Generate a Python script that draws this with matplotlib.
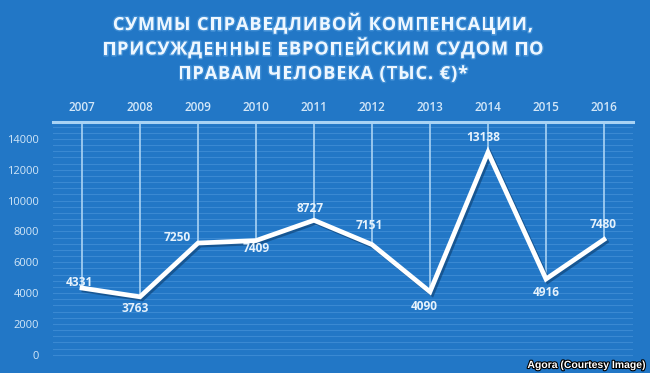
import matplotlib.pyplot as plt
import matplotlib.patheffects as pe
import numpy as np

years = [2007, 2008, 2009, 2010, 2011, 2012, 2013, 2014, 2015, 2016]
values = [4331, 3763, 7250, 7409, 8727, 7151, 4090, 13138, 4916, 7480]
# label offsets in pixels relative to the point
label_offsets = [(-3, 6), (-5, -12), (-21, 6), (0, -8), (-4, 12),
                 (-3, 19), (-6, -15), (-5, 15), (0, -13), (-1, 15)]
yticks = [0, 2000, 4000, 6000, 8000, 10000, 12000, 14000]
title_lines = ["СУММЫ СПРАВЕДЛИВОЙ КОМПЕНСАЦИИ,",
               "ПРИСУЖДЕННЫЕ ЕВРОПЕЙСКИМ СУДОМ ПО",
               "ПРАВАМ ЧЕЛОВЕКА (ТЫС. €)*"]

bg = '#2277c6'
light = '#d3e7f8'
stripe = '#3a89d2'
vline = '#a9d3f4'

W, H = 650, 373
fig = plt.figure(figsize=(W / 100, H / 100), dpi=100, facecolor=bg)
ax = fig.add_axes([53 / W, 1 - 361 / H, 580 / W, (361 - 122) / H])
ax.set_facecolor(bg)
ax.set_xlim(2006.5, 2016.5)
ax.set_ylim(-400, 15100)

# faint stripes
for y in np.arange(0, 15000, 400):
    ax.axhline(y, color=stripe, lw=0.8, zorder=0)

# top line
ax.axhline(15100, color=vline, lw=2.2, zorder=1, clip_on=False)
# vertical drops from the top to each point
ax.vlines(years, values, 15100, color=vline, lw=1.2, zorder=1)

ax.plot(years, values, color='white', lw=3.4, zorder=3, solid_joinstyle='miter',
        path_effects=[pe.SimpleLineShadow(offset=(1.5, -1.5), shadow_color='#0d3f70', alpha=0.6),
                      pe.Normal()])

for x, v, (dx, dy) in zip(years, values, label_offsets):
    ax.annotate(str(v), (x, v), xytext=(dx, dy), textcoords='offset pixels',
                ha='center', va='center', color='#e6f2fc', fontsize=8.6,
                fontweight='bold', family='Open Sans', zorder=4)

ax.set_yticks(yticks)
ax.set_yticklabels([str(t) for t in yticks], color=light, fontsize=8,
                   family='Open Sans')
ax.tick_params(axis='y', length=0, pad=10)
ax.set_xticks(years)
ax.xaxis.tick_top()
ax.set_xticklabels([str(y) for y in years], color=light, fontsize=8.5,
                   family='Open Sans', fontweight='semibold')
ax.tick_params(axis='x', length=0, pad=6)
for s in ax.spines.values():
    s.set_visible(False)

# title with letter spacing, laid out char by char
renderer = fig.canvas.get_renderer()
tprops = dict(fontsize=13, fontweight='bold', family='Open Sans')
glow = [pe.withStroke(linewidth=2.0, foreground='#6aaee8', alpha=0.4)]


def char_width(ch):
    a = fig.text(0, 0, 'H' + ch + 'H', **tprops)
    b = fig.text(0, 0, 'HH', **tprops)
    w = a.get_window_extent(renderer).width - b.get_window_extent(renderer).width
    a.remove()
    b.remove()
    return w


tracking = 1.0
for i, line in enumerate(title_lines):
    widths = [char_width(c) for c in line]
    total = sum(widths) + tracking * (len(line) - 1)
    x = 323 - total / 2
    yc = 25 + i * 24.5
    for c, w in zip(line, widths):
        if c != ' ':
            fig.text(x / W, 1 - yc / H, c, ha='left', va='center',
                     color='#eef7ff', path_effects=glow, **tprops)
        x += w + tracking

fig.text(0.992, 1 - 365 / H, 'Agora (Courtesy Image)', ha='right', va='center',
         color='white', fontsize=7.5, fontweight='bold', family='Liberation Sans',
         path_effects=[pe.withStroke(linewidth=1.6, foreground='black')])

fig.savefig('out.png', dpi=100, facecolor=bg)
